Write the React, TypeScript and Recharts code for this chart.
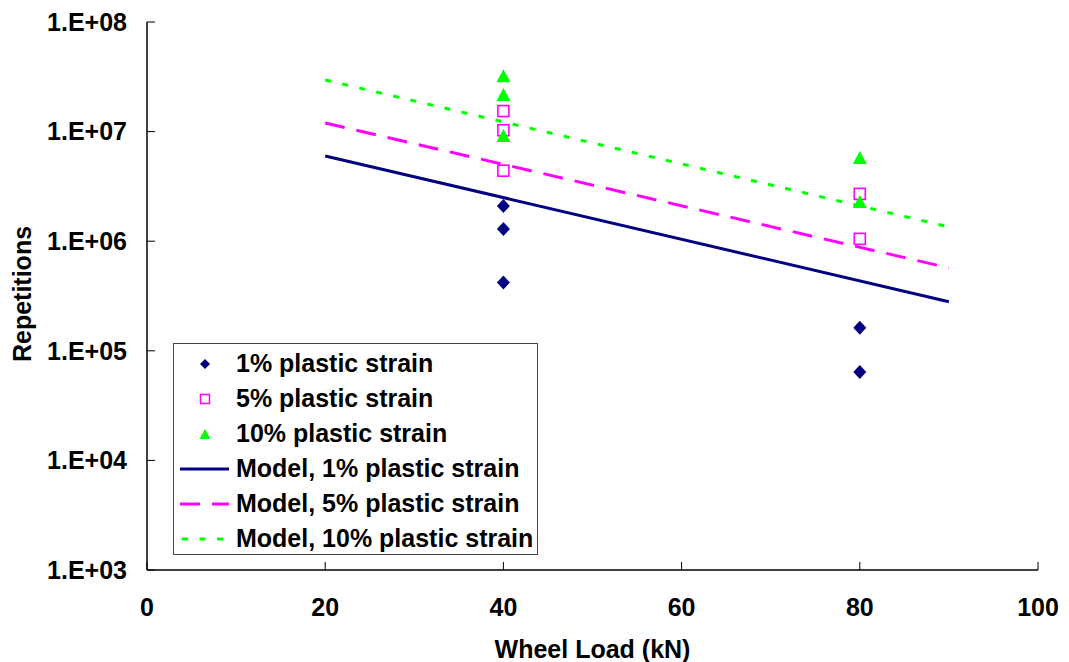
import React from 'react';
import { ComposedChart, Scatter, Line, XAxis, YAxis, Legend } from 'recharts';

// Measured repetitions at each wheel load (kN)
const strain1Points = [
  { x: 40, y: 2.1e6 },
  { x: 40, y: 1.29e6 },
  { x: 40, y: 4.2e5 },
  { x: 80, y: 1.62e5 },
  { x: 80, y: 6.4e4 },
];
const strain5Points = [
  { x: 40, y: 1.54e7 },
  { x: 40, y: 1.03e7 },
  { x: 40, y: 4.4e6 },
  { x: 80, y: 2.7e6 },
  { x: 80, y: 1.05e6 },
];
const strain10Points = [
  { x: 40, y: 3.2e7 },
  { x: 40, y: 2.16e7 },
  { x: 40, y: 9.1e6 },
  { x: 80, y: 5.74e6 },
  { x: 80, y: 2.28e6 },
];

// Model predictions (straight on the log scale)
const model1 = [
  { x: 20, y: 6.0e6 },
  { x: 90, y: 2.8e5 },
];
const model5 = [
  { x: 20, y: 1.2e7 },
  { x: 90, y: 5.7e5 },
];
const model10 = [
  { x: 20, y: 2.96e7 },
  { x: 90, y: 1.35e6 },
];

const xTicks = [0, 20, 40, 60, 80, 100];
const yTicks = [1e3, 1e4, 1e5, 1e6, 1e7, 1e8];

const legendItems = [
  { kind: 'diamond', label: '1% plastic strain' },
  { kind: 'square', label: '5% plastic strain' },
  { kind: 'triangle', label: '10% plastic strain' },
  { kind: 'solid', label: 'Model, 1% plastic strain' },
  { kind: 'dashed', label: 'Model, 5% plastic strain' },
  { kind: 'dotted', label: 'Model, 10% plastic strain' },
];

const NAVY = '#000080';
const MAGENTA = '#FF00FF';
const LIME = '#00FF00';
const FONT = '"Liberation Sans", Arial, sans-serif';
const FS = 25;

const formatPow = (v: number) => `1.E+0${Math.round(Math.log10(v))}`;

const DiamondShape = (p: any) => {
  const { cx, cy } = p;
  return (
    <polygon
      points={`${cx},${cy - 7} ${cx + 6.5},${cy} ${cx},${cy + 7} ${cx - 6.5},${cy}`}
      fill={NAVY}
    />
  );
};

const SquareShape = (p: any) => {
  const { cx, cy } = p;
  return (
    <rect x={cx - 5.5} y={cy - 5.5} width={11} height={11} fill="none" stroke={MAGENTA} strokeWidth={1.6} />
  );
};

const TriangleShape = (p: any) => {
  const { cx, cy } = p;
  return <polygon points={`${cx},${cy - 7} ${cx + 7},${cy + 6} ${cx - 7},${cy + 6}`} fill={LIME} />;
};

const LegendSwatch = ({ kind }: { kind: string }) => {
  const c = 25;
  const m = 9;
  let el: React.ReactNode = null;
  if (kind === 'diamond')
    el = <polygon points={`${c},${m - 5} ${c + 5},${m} ${c},${m + 5} ${c - 5},${m}`} fill={NAVY} />;
  else if (kind === 'square')
    el = <rect x={c - 4.5} y={m - 4.5} width={9} height={9} fill="none" stroke={MAGENTA} strokeWidth={1.5} />;
  else if (kind === 'triangle')
    el = <polygon points={`${c},${m - 5} ${c + 5.5},${m + 5} ${c - 5.5},${m + 5}`} fill={LIME} />;
  else if (kind === 'solid') el = <line x1={0} x2={49} y1={m} y2={m} stroke={NAVY} strokeWidth={3} />;
  else if (kind === 'dashed')
    el = <line x1={0} x2={49} y1={m} y2={m} stroke={MAGENTA} strokeWidth={3} strokeDasharray="20 12" />;
  else if (kind === 'dotted')
    el = <line x1={2} x2={49} y1={m} y2={m} stroke={LIME} strokeWidth={3} strokeDasharray="6 11.5" />;
  return (
    <svg width={50} height={18} style={{ display: 'block', flex: 'none' }}>
      {el}
    </svg>
  );
};

const LegendBox = () => (
  <div
    style={{
      boxSizing: 'border-box',
      width: 365,
      height: 212,
      border: '1.5px solid #444',
      background: '#fff',
      padding: '2px 0 0 6px',
      fontFamily: FONT,
      fontWeight: 'bold',
      fontSize: FS,
      color: '#000',
    }}
  >
    {legendItems.map((it) => (
      <div key={it.label} style={{ display: 'flex', alignItems: 'center', height: 35, whiteSpace: 'nowrap' }}>
        <LegendSwatch kind={it.kind} />
        <span style={{ marginLeft: 6 }}>{it.label}</span>
      </div>
    ))}
  </div>
);

const tickStyle = { fontFamily: FONT, fontWeight: 'bold', fontSize: FS, fill: '#000' } as const;

export default function App() {
  return (
    <div style={{ position: 'absolute', left: 0, top: 0, width: 1069, height: 662, background: '#fff' }}>
      <ComposedChart width={1069} height={662} margin={{ top: 22, right: 31, bottom: 52, left: 0 }}>
        <XAxis
          type="number"
          dataKey="x"
          domain={[0, 100]}
          ticks={xTicks}
          interval={0}
          height={40}
          axisLine={{ stroke: '#000', strokeWidth: 1.5 }}
          tickLine={{ stroke: '#000', strokeWidth: 1 }}
          tickSize={-8}
          tickMargin={36}
          tick={tickStyle}
          label={{
            content: (props: any) => {
              const vb = props.viewBox;
              return (
                <text
                  x={vb.x + vb.width / 2}
                  y={658}
                  textAnchor="middle"
                  style={{ fontFamily: FONT, fontWeight: 'bold', fontSize: FS }}
                  fill="#000"
                >
                  Wheel Load (kN)
                </text>
              );
            },
          }}
        />
        <YAxis
          type="number"
          dataKey="y"
          scale="log"
          domain={[1e3, 1e8]}
          ticks={yTicks}
          interval={0}
          allowDataOverflow
          width={147}
          axisLine={{ stroke: '#000', strokeWidth: 1.5 }}
          tickLine={{ stroke: '#000', strokeWidth: 1 }}
          tickSize={-8}
          tickMargin={28}
          tick={tickStyle}
          tickFormatter={formatPow}
          label={{
            content: () => {
              const cy = 294;
              return (
                <text
                  x={31}
                  y={cy}
                  transform={`rotate(-90 31 ${cy})`}
                  textAnchor="middle"
                  style={{ fontFamily: FONT, fontWeight: 'bold', fontSize: FS }}
                  fill="#000"
                >
                  Repetitions
                </text>
              );
            },
          }}
        />
        <Line
          data={model1}
          dataKey="y"
          stroke={NAVY}
          strokeWidth={3}
          dot={false}
          activeDot={false}
          isAnimationActive={false}
          legendType="none"
        />
        <Line
          data={model5}
          dataKey="y"
          stroke={MAGENTA}
          strokeWidth={3}
          strokeDasharray="20 12"
          dot={false}
          activeDot={false}
          isAnimationActive={false}
          legendType="none"
        />
        <Line
          data={model10}
          dataKey="y"
          stroke={LIME}
          strokeWidth={3}
          strokeDasharray="6 11.5"
          dot={false}
          activeDot={false}
          isAnimationActive={false}
          legendType="none"
        />
        <Scatter data={strain1Points} dataKey="y" shape={DiamondShape} isAnimationActive={false} />
        <Scatter data={strain5Points} dataKey="y" shape={SquareShape} isAnimationActive={false} />
        <Scatter data={strain10Points} dataKey="y" shape={TriangleShape} isAnimationActive={false} />
        <Legend
          layout="vertical"
          align="center"
          verticalAlign="middle"
          wrapperStyle={{ position: 'absolute', left: 173, top: 343, width: 365, height: 212 }}
          content={() => <LegendBox />}
        />
      </ComposedChart>
    </div>
  );
}
